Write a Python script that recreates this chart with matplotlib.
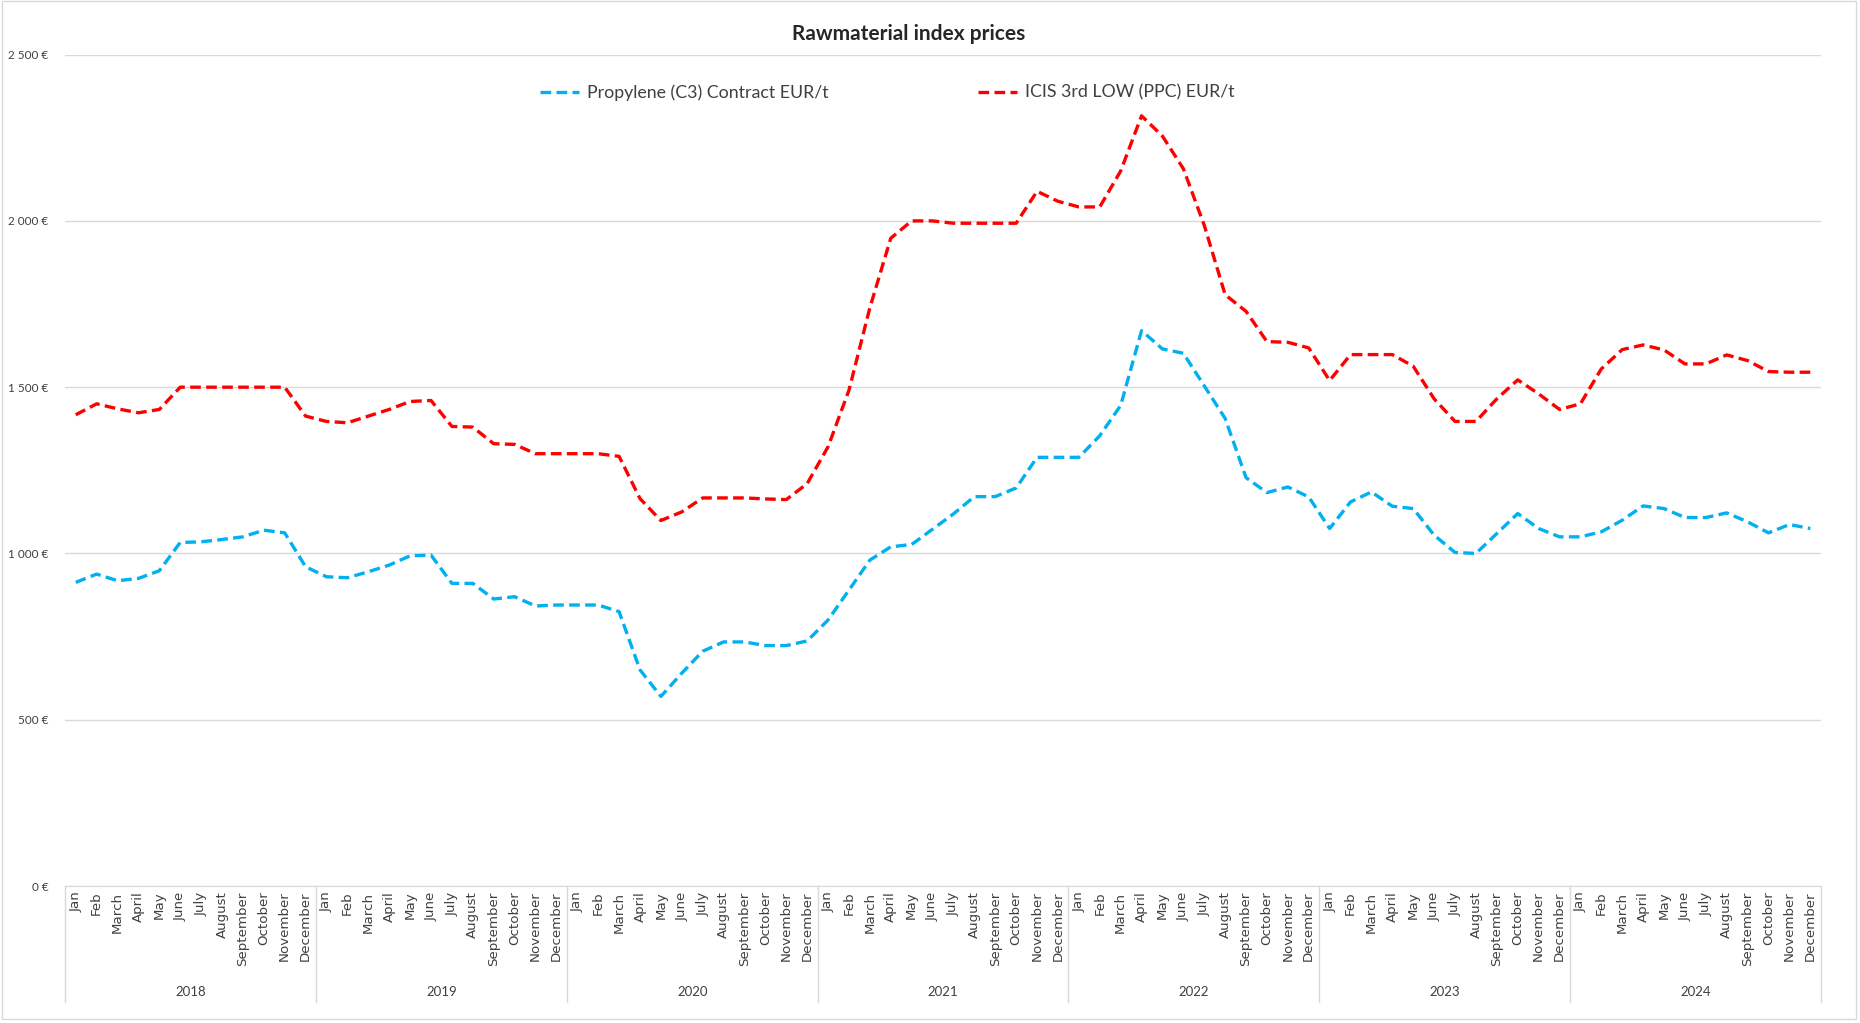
import matplotlib.pyplot as plt
from matplotlib.lines import Line2D
from matplotlib.patches import Rectangle
from matplotlib.ticker import FuncFormatter
import numpy as np

# Monthly index prices, EUR/t
years = ['2018', '2019', '2020', '2021', '2022', '2023', '2024']
months = ['Jan', 'Feb', 'March', 'April', 'May', 'June', 'July', 'August',
          'September', 'October', 'November', 'December']

propylene = [
    913, 938, 918, 925, 948, 1033, 1035, 1042, 1050, 1070, 1062, 960,
    930, 927, 945, 965, 993, 995, 910, 910, 863, 870, 842, 845,
    845, 845, 825, 650, 570, 640, 706, 734, 734, 723, 723, 737,
    800, 890, 980, 1020, 1027, 1073, 1119, 1171, 1171, 1197, 1289, 1289,
    1289, 1354, 1445, 1670, 1615, 1602, 1504, 1406, 1228, 1183, 1200, 1170,
    1075, 1155, 1185, 1142, 1135, 1055, 1003, 1000, 1060, 1120, 1075, 1050,
    1050, 1065, 1100, 1143, 1135, 1108, 1108, 1122, 1095, 1062, 1087, 1075,
]
icis = [
    1417, 1450, 1435, 1423, 1433, 1500, 1500, 1500, 1500, 1500, 1500, 1413,
    1397, 1393, 1413, 1433, 1457, 1460, 1382, 1380, 1330, 1328, 1300, 1300,
    1300, 1300, 1292, 1165, 1099, 1125, 1167, 1167, 1167, 1164, 1162, 1210,
    1321, 1491, 1739, 1948, 2000, 2000, 1993, 1993, 1993, 1993, 2089, 2059,
    2042, 2042, 2150, 2316, 2255, 2157, 1987, 1778, 1728, 1637, 1635, 1618,
    1520, 1598, 1598, 1598, 1563, 1465, 1397, 1397, 1465, 1522, 1480, 1433,
    1450, 1555, 1613, 1627, 1612, 1570, 1570, 1597, 1580, 1547, 1545, 1545,
]

labels = months * len(years)
x = np.arange(len(labels))

text_col = '#404040'
grid_col = '#d9d9d9'

fig = plt.figure(figsize=(18.6, 10.23), dpi=100)
ax = fig.add_axes([0.0351, 0.1339, 0.9438, 0.8127])

ax.plot(x, propylene, color='#00b0f0', lw=2.4, dashes=(3.2, 1.6),
        label='Propylene (C3) Contract EUR/t')
ax.plot(x, icis, color='#ff0000', lw=2.4, dashes=(3.2, 1.6),
        label='ICIS 3rd LOW (PPC) EUR/t')

ax.set_xlim(-0.5, len(labels) - 0.5)
ax.set_ylim(0, 2500)
ax.set_yticks(np.arange(0, 2501, 500))
ax.yaxis.set_major_formatter(FuncFormatter(
    lambda v, p: f'{v:,.0f}'.replace(',', ' ') + ' €'))
ax.grid(axis='y', color=grid_col, lw=1)
ax.set_axisbelow(True)

for s in ['top', 'right', 'left']:
    ax.spines[s].set_visible(False)
ax.spines['bottom'].set_color(grid_col)

ax.set_xticks(x)
ax.set_xticklabels(labels, rotation=90, fontsize=9.6, family='DejaVu Sans',
                   color=text_col)
ax.tick_params(axis='x', length=0, pad=4)
ax.tick_params(axis='y', length=0, pad=12, labelsize=8.5, labelcolor=text_col)
for t in ax.get_yticklabels():
    t.set_family('Lato')

# year groups under the month labels
trans = ax.get_xaxis_transform()
for i in range(len(years) + 1):
    xb = i * 12 - 0.5
    ax.add_line(Line2D([xb, xb], [0, -0.14], transform=trans, color=grid_col,
                       lw=1, clip_on=False))
for i, yr in enumerate(years):
    ax.text(i * 12 + 5.5, -0.127, yr, transform=trans, ha='center',
            va='center', fontsize=9.5, family='Lato', color=text_col)

fig.suptitle('Rawmaterial index prices', x=0.4885, y=0.9667, va='center',
             fontsize=15, fontweight='bold', family='Lato', color='#262626')
fig.legend(loc='center', bbox_to_anchor=(0.477, 0.9096), ncol=2,
           frameon=False, handlelength=2.2, handletextpad=0.45,
           columnspacing=8.4, prop={'family': 'Lato', 'size': 12.8},
           labelcolor=text_col)

fig.add_artist(Rectangle((0.001, 0.004), 0.997, 0.995, transform=fig.transFigure,
                         fill=False, edgecolor=grid_col, lw=1))

fig.savefig('out.png', dpi=100, facecolor='white')
